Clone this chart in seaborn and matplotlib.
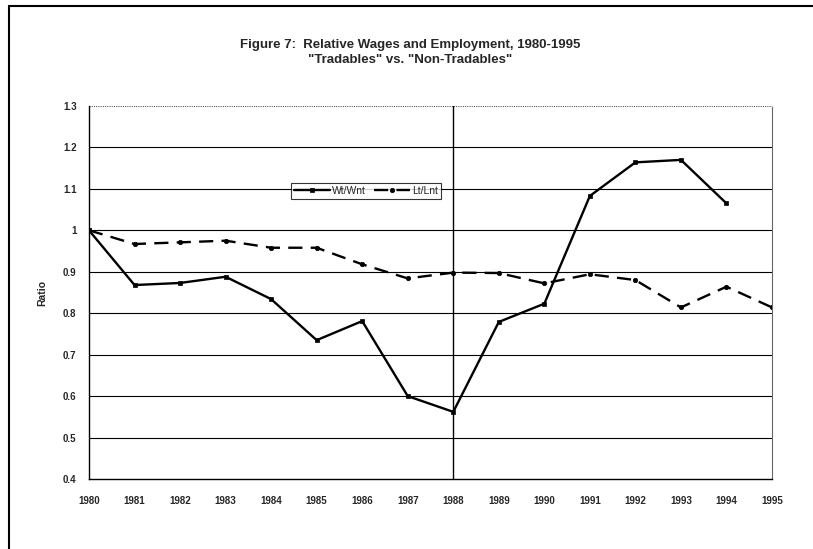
import matplotlib
matplotlib.use("Agg")
import matplotlib.pyplot as plt
from matplotlib.lines import Line2D
import seaborn as sns
import pandas as pd
import numpy as np

years = list(range(1980, 1996))
wage_ratio = [1.0, 0.868, 0.873, 0.888, 0.834, 0.735, 0.781, 0.600, 0.562,
              0.779, 0.823, 1.083, 1.164, 1.170, 1.065, np.nan]
emp_ratio = [1.0, 0.967, 0.971, 0.975, 0.958, 0.958, 0.918, 0.884, 0.898,
             0.897, 0.872, 0.894, 0.880, 0.814, 0.864, 0.814]
y_ticks = [0.4, 0.5, 0.6, 0.7, 0.8, 0.9, 1.0, 1.1, 1.2, 1.3]
y_tick_labels = ["0.4", "0.5", "0.6", "0.7", "0.8", "0.9", "1", "1.1", "1.2", "1.3"]
series_names = ["Wt/Wnt", "Lt/Lnt"]

df = pd.DataFrame({"Year": years, series_names[0]: wage_ratio, series_names[1]: emp_ratio})
long = df.melt(id_vars="Year", var_name="Series", value_name="Ratio").dropna()

sns.set_style("white")
plt.rcParams["font.family"] = ["Liberation Sans", "DejaVu Sans"]

fig = plt.figure(figsize=(8.13, 5.49), dpi=100)
W, H = 813, 549
ax = fig.add_axes([89 / W, 1 - 479 / H, (772 - 89) / W, (479 - 106) / H])

sns.lineplot(data=long, x="Year", y="Ratio", hue="Series", style="Series",
             palette={series_names[0]: "black", series_names[1]: "black"},
             dashes={series_names[0]: "", series_names[1]: (6, 3.5)},
             markers={series_names[0]: "s", series_names[1]: "o"},
             markersize=3.2, markeredgecolor="black", markeredgewidth=0.5,
             linewidth=1.7, ax=ax, legend=True)

ax.set_xlim(1980, 1995)
ax.set_ylim(0.4, 1.3)
ax.set_yticks(y_ticks)
ax.set_yticklabels(y_tick_labels)
ax.set_xticks(years)
ax.set_xticklabels([str(y) for y in years])
for lbl in ax.get_xticklabels() + ax.get_yticklabels():
    lbl.set_fontsize(7)
    lbl.set_fontweight("bold")
ax.tick_params(axis="both", length=3, width=0.8, color="black", pad=6, direction="out")
ax.tick_params(axis="x", pad=9)
ax.set_xlabel("")
ax.set_ylabel("Ratio", fontsize=7.5, fontweight="bold", labelpad=11)

# horizontal gridlines
for yv in y_ticks[1:-1]:
    ax.axhline(yv, color="black", linewidth=0.8, zorder=0)
ax.axhline(1.3, color="#555555", linewidth=0.8, linestyle=(0, (1, 1)), zorder=0)
ax.axvline(1988, color="black", linewidth=1.0, zorder=0)

for side in ["left", "bottom"]:
    ax.spines[side].set_color("black")
    ax.spines[side].set_linewidth(1.0)
ax.spines["top"].set_visible(False)
ax.spines["right"].set_color("#666666")
ax.spines["right"].set_linestyle((0, (1, 1)))
ax.spines["right"].set_linewidth(0.8)

leg = ax.legend(ncol=2, loc="center", bbox_to_anchor=((366 - 89) / (772 - 89), (479 - 191) / (479 - 106)),
                frameon=True, fontsize=7.5, handlelength=3.4, handletextpad=0.2,
                columnspacing=0.8, borderpad=0.3, fancybox=False)
leg.get_frame().set_edgecolor("black")
leg.get_frame().set_linewidth(0.8)

fig.text(410 / W, 1 - 45 / H, "Figure 7:  Relative Wages and Employment, 1980-1995",
         ha="center", va="center", fontsize=9.5, fontweight="bold")
fig.text(410 / W, 1 - 60 / H, "\"Tradables\" vs. \"Non-Tradables\"",
         ha="center", va="center", fontsize=9.5, fontweight="bold")

# page frame
fig.add_artist(Line2D([9 / W, 9 / W], [0, 1 - 6 / H], color="black", linewidth=1.5))
fig.add_artist(Line2D([9 / W, 1], [1 - 6 / H, 1 - 6 / H], color="black", linewidth=1.5))

fig.savefig("out.png", dpi=100)
